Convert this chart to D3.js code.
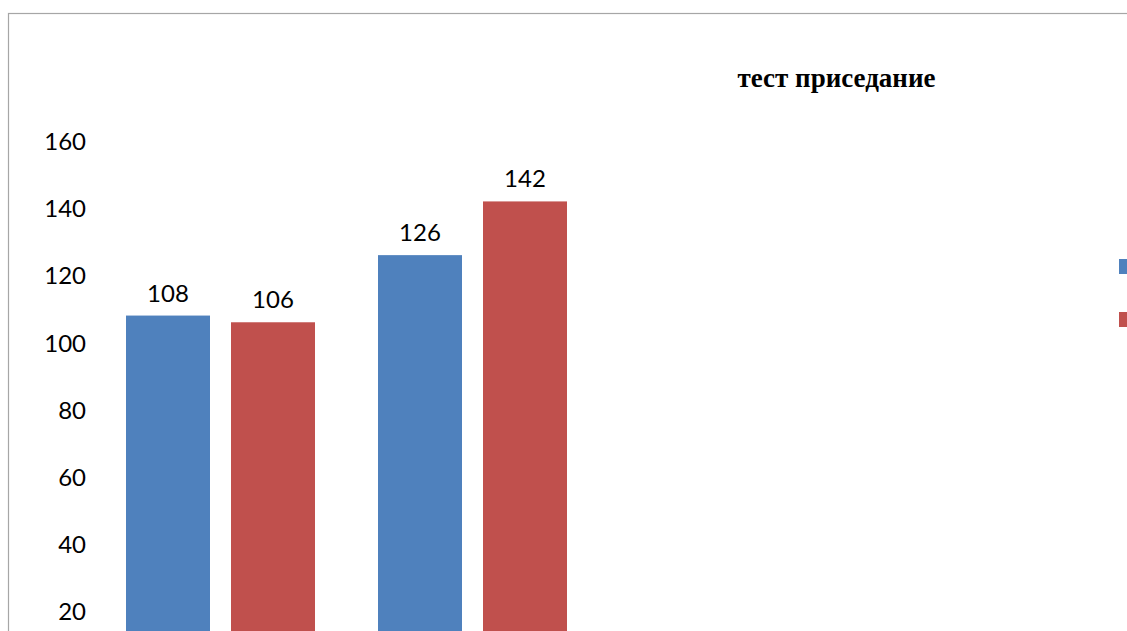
<!DOCTYPE html>
<html>
<head>
<meta charset="utf-8">
<script src="https://cdn.jsdelivr.net/npm/d3@7"></script>
<style>
  html, body { margin: 0; padding: 0; background: #fff; overflow: hidden; }
  svg { display: block; }
</style>
</head>
<body>
<svg id="chart" width="1127" height="631"></svg>
<script>
// Squat test results by group, two measurements each
const categories = ["контрольная группа", "экспериментальная группа"];
const seriesNames = ["начало", "конец"];
const seriesValues = [
  [108, 126],   // начало
  [106, 142]    // конец
];
const tickValues = [20, 40, 60, 80, 100, 120, 140, 160];
const colors = ["#4F81BD", "#C0504D"];
const title = "тест приседание";

const svg = d3.select("#chart");

// chart frame
svg.append("rect")
  .attr("x", 8.5).attr("y", 13.5)
  .attr("width", 1400).attr("height", 900)
  .attr("fill", "#fff")
  .attr("stroke", "#a6a6a6").attr("stroke-width", 1.2);

const y = d3.scaleLinear().domain([0, 160]).range([678.1, 141]);
const x0 = d3.scaleBand().domain(categories).range([94.5, 598.5])
  .paddingInner(0.25).paddingOuter(0.125);
const x1 = d3.scaleBand().domain(seriesNames).range([0, x0.bandwidth()])
  .paddingInner(0.2);

// value axis (labels only)
const yAxis = svg.append("g")
  .attr("transform", "translate(86,0)")
  .call(d3.axisLeft(y).tickValues(tickValues).tickSize(0).tickPadding(0));
yAxis.select(".domain").remove();
yAxis.selectAll("text")
  .attr("font-family", "Lato, 'Open Sans', sans-serif")
  .attr("font-size", 24)
  .attr("fill", "#000")
  .attr("dy", "0.36em");

// bars
const data = [];
seriesNames.forEach((s, si) => {
  categories.forEach((c, ci) => {
    data.push({ series: s, si, category: c, value: seriesValues[si][ci] });
  });
});

svg.append("g").selectAll("rect")
  .data(data)
  .join("rect")
  .attr("x", d => x0(d.category) + x1(d.series))
  .attr("y", d => y(d.value))
  .attr("width", x1.bandwidth())
  .attr("height", d => y(0) - y(d.value))
  .attr("fill", d => colors[d.si]);

// data labels
svg.append("g").selectAll("text")
  .data(data)
  .join("text")
  .attr("x", d => x0(d.category) + x1(d.series) + x1.bandwidth() / 2)
  .attr("y", d => y(d.value) - 14)
  .attr("text-anchor", "middle")
  .attr("font-family", "Lato, 'Open Sans', sans-serif")
  .attr("font-size", 24)
  .attr("fill", "#000")
  .text(d => d.value);

// title
svg.append("text")
  .attr("x", 836.5).attr("y", 87)
  .attr("text-anchor", "middle")
  .attr("font-family", "'Liberation Serif', 'Times New Roman', serif")
  .attr("font-weight", "bold")
  .attr("font-size", 27)
  .attr("fill", "#000")
  .text(title);

// legend swatches
const legend = svg.append("g").attr("transform", "translate(1119,259)");
legend.selectAll("rect").data(seriesNames).join("rect")
  .attr("y", (d, i) => i * 53)
  .attr("width", 15).attr("height", 15)
  .attr("fill", (d, i) => colors[i]);
</script>
</body>
</html>
